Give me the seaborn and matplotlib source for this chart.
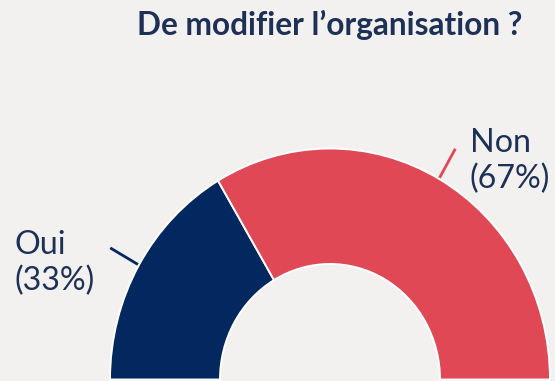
import numpy as np
import matplotlib
matplotlib.use("Agg")
import matplotlib.pyplot as plt
import seaborn as sns

# Survey answers
categories = ["Oui", "Non"]
shares = [33, 67]
title = "De modifier l\u2019organisation ?"

navy = "#02285f"
red = "#e04855"
bg = "#f3f1ef"
text_col = "#1d3157"

sns.set_theme(style="white")
plt.rcParams["font.family"] = ["Lato", "DejaVu Sans"]

fig = plt.figure(figsize=(5.55, 3.81), dpi=100, facecolor=bg)
ax = fig.add_axes([0, 0, 1, 1])
ax.set_facecolor(bg)

# Half donut: the two answers fill the upper half, the lower half is an invisible filler
palette = sns.color_palette([navy, red])
wedges, _ = ax.pie(
    shares + [sum(shares)],
    startangle=180,
    counterclock=False,
    radius=1.0,
    colors=list(palette) + [bg],
    wedgeprops=dict(width=0.5, edgecolor="white", linewidth=1.4),
)
wedges[-1].set_visible(False)

# Canvas: centre of the donut near the bottom edge, slightly taller than wide
W, H = 555, 381
cx, cy, rx, ry = 330, 379.5, 220, 231
ax.set_aspect("auto")
ax.set_xlim(-cx / rx, (W - cx) / rx)
ax.set_ylim(-(H - cy) / ry, cy / ry)
ax.axis("off")

# Radial leader lines and labels
label_pos = {"Oui": (-1.432, 0.505), "Non": (0.636, 0.945)}
for wedge, cat, val, col in zip(wedges, categories, shares, palette):
    mid = np.deg2rad((wedge.theta1 + wedge.theta2) / 2)
    r0, r1 = 1.005, 1.15
    ax.plot([r0 * np.cos(mid), r1 * np.cos(mid)],
            [r0 * np.sin(mid), r1 * np.sin(mid)],
            color=col, lw=2, solid_capstyle="butt")
    x, y = label_pos[cat]
    ax.text(x, y, f"{cat}\n({val}%)", ha="left", va="center",
            fontsize=23.2, color=text_col, fontweight="normal", linespacing=1.25)

fig.text(cx / W, 1 - 25 / H, title, ha="center", va="center",
         fontsize=22.8, fontweight="bold", color=text_col)

fig.savefig("out.png", dpi=100, facecolor=bg)
